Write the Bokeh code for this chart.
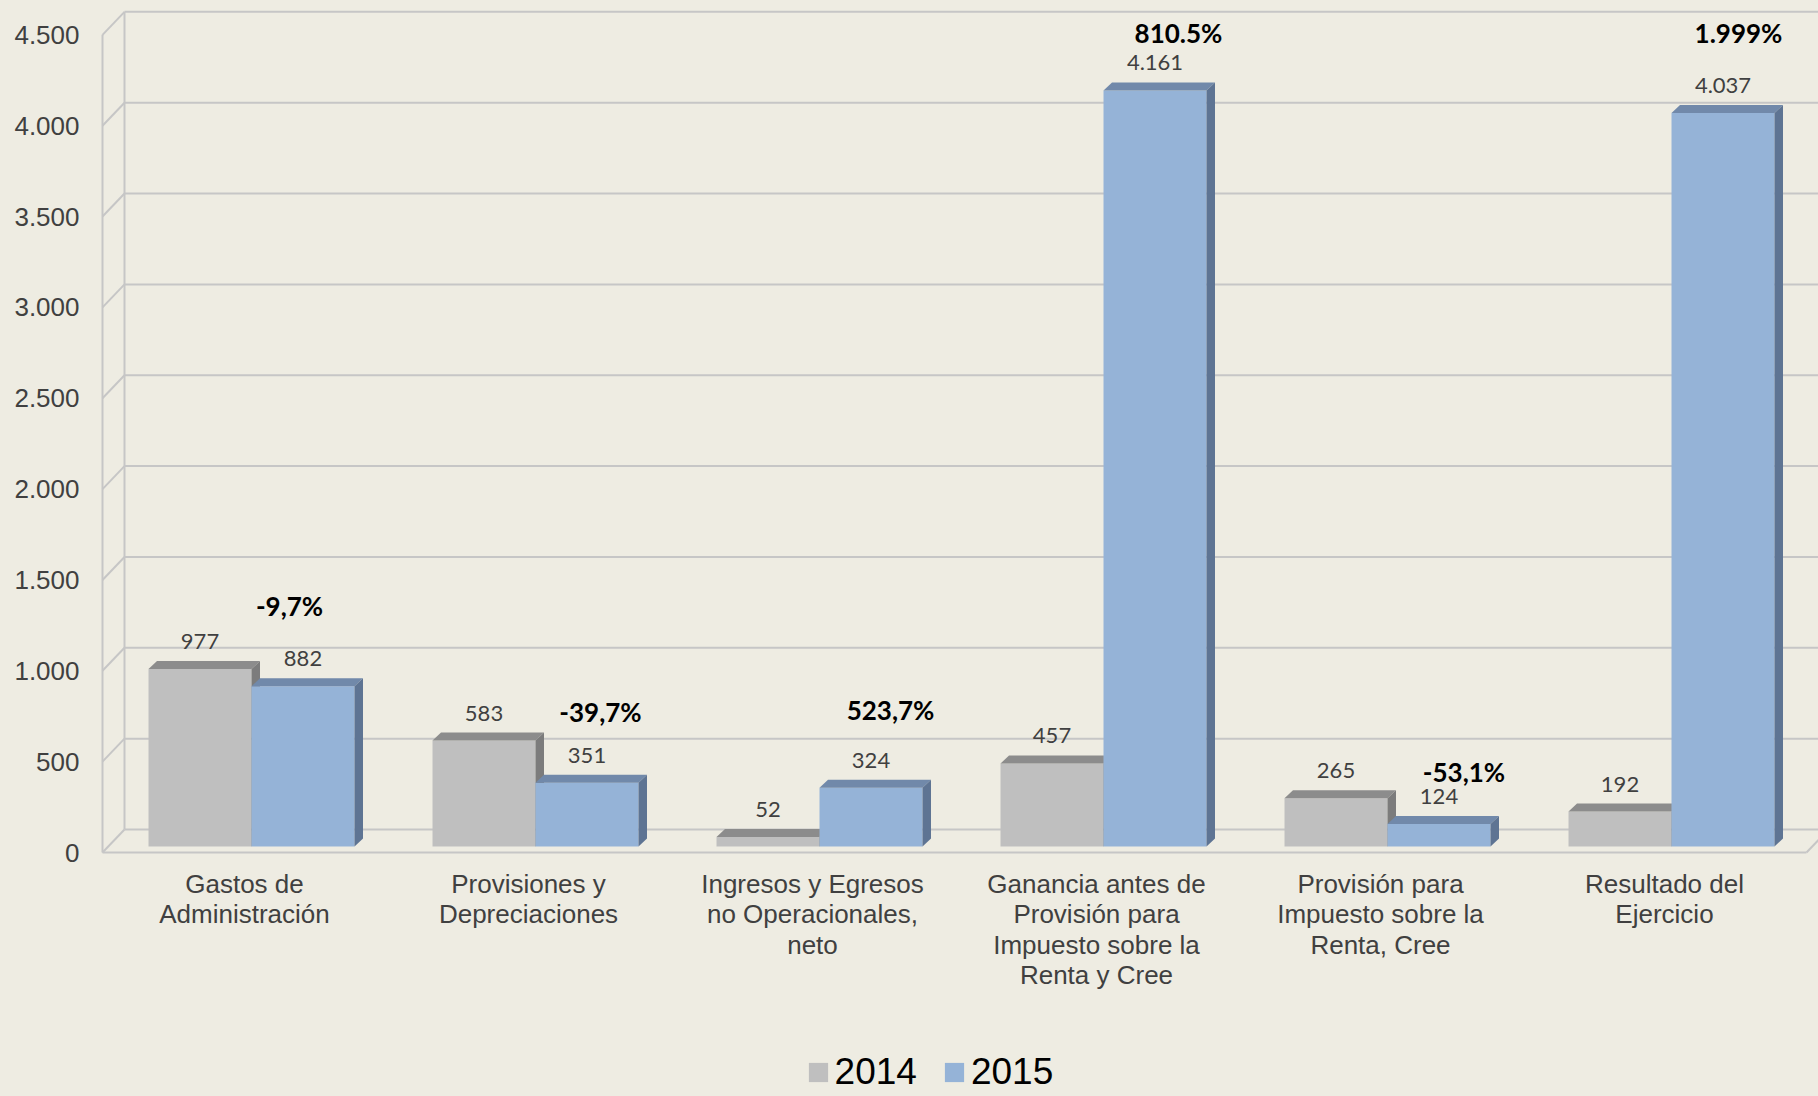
from bokeh.plotting import figure
from bokeh.models import Range1d, FixedTicker, Legend, LegendItem
from bokeh.core.properties import value
from bokeh.embed import file_html
from bokeh.resources import INLINE

# ---------------- data ----------------
categories = [
    "Gastos de\nAdministración",
    "Provisiones y\nDepreciaciones",
    "Ingresos y Egresos\nno Operacionales,\nneto",
    "Ganancia antes de\nProvisión para\nImpuesto sobre la\nRenta y Cree",
    "Provisión para\nImpuesto sobre la\nRenta, Cree",
    "Resultado del\nEjercicio",
]
series_names = ["2014", "2015"]
values_2014 = [977, 583, 52, 457, 265, 192]
values_2015 = [882, 351, 324, 4161, 124, 4037]
labels_2014 = ["977", "583", "52", "457", "265", "192"]
labels_2015 = ["882", "351", "324", "4.161", "124", "4.037"]
pct_change = ["-9,7%", "-39,7%", "523,7%", "810.5%", "-53,1%", "1.999%"]
y_ticks = [0, 500, 1000, 1500, 2000, 2500, 3000, 3500, 4000, 4500]
y_tick_labels = ["0", "500", "1.000", "1.500", "2.000", "2.500",
                 "3.000", "3.500", "4.000", "4.500"]

# ---------------- layout / style constants ----------------
W, H = 1818, 1096
FRAME_LEFT = 100       # canvas px of frame left
X0_PX = 102            # canvas px of x = 0 (front axis)
ZERO_PX = 852          # canvas px of front-plane zero
KX = 284.0             # px per category
KY = 0.1817            # px per value unit

BG = "#EEECE2"
GRID = "#C6C6C6"
GRAY_FRONT, GRAY_TOP, GRAY_SIDE = "#BFBFBF", "#8C8C8C", "#7C7C7C"
BLUE_FRONT, BLUE_TOP, BLUE_SIDE = "#95B3D7", "#7189AA", "#5E7493"

DXW, DYW = 22 / KX, 23 / KY        # depth of the wall (back offset)
OX, OY = 7 / KX, 6 / KY            # bar front plane offset
BDX, BDY = 8.5 / KX, 8 / KY        # bar depth
BW = 103 / KX                      # bar width
VAL_GAP = 27.5 / KY                # value label gap above bar
CAT_GAP = 16 / KY                  # category label gap below floor
# percentage text-box nudges (px) relative to 2015 bar front-top centre
pct_nudge_px = [(-13.5, 80), (13.5, 70.5), (19.5, 77.5), (23.5, 57), (25, 52), (15.5, 79.5)]

n = len(categories)
x_end = (W - X0_PX) / KX

p = figure(width=W, height=H,
           x_range=Range1d(-(X0_PX - FRAME_LEFT) / KX, x_end),
           y_range=Range1d(-(H - ZERO_PX) / KY, ZERO_PX / KY),
           output_backend="svg", toolbar_location=None,
           x_axis_location=None,
           min_border_left=FRAME_LEFT, min_border_right=0,
           min_border_top=0, min_border_bottom=0)
p.background_fill_color = BG
p.border_fill_color = BG
p.styles = {"background-color": BG}
p.outline_line_color = None
p.xgrid.visible = False
p.ygrid.visible = False

ax = p.yaxis[0]
ax.ticker = FixedTicker(ticks=y_ticks)
ax.major_label_overrides = {t: l for t, l in zip(y_ticks, y_tick_labels)}
ax.axis_line_color = None
ax.major_tick_line_color = None
ax.minor_tick_line_color = None
ax.major_label_standoff = 15
ax.major_label_text_font = "Liberation Sans"
ax.major_label_text_font_size = "26px"
ax.major_label_text_color = "#404040"

# ---------------- walls / grid ----------------
top = y_ticks[-1]
gx0, gy0, gx1, gy1 = [], [], [], []
for t in y_ticks:
    gx0.append(DXW); gy0.append(t + DYW); gx1.append(x_end + 1); gy1.append(t + DYW)
    gx0.append(0); gy0.append(t); gx1.append(DXW); gy1.append(t + DYW)
gx0 += [DXW, 0, 0, n]
gy0 += [DYW, 0, 0, 0]
gx1 += [DXW, 0, n, n + DXW]
gy1 += [top + DYW, top, 0, DYW]
p.segment(gx0, gy0, gx1, gy1, line_color=GRID, line_width=2)

# ---------------- 3D bars ----------------
def bar_faces(lefts, vals):
    rights = [l + BW for l in lefts]
    tops_x, tops_y, sides_x, sides_y = [], [], [], []
    for l, r, v in zip(lefts, rights, vals):
        b = OY
        tp = OY + v
        tops_x.append([l, r, r + BDX, l + BDX])
        tops_y.append([tp, tp, tp + BDY, tp + BDY])
        sides_x.append([r, r + BDX, r + BDX, r])
        sides_y.append([b, b + BDY, tp + BDY, tp])
    return rights, tops_x, tops_y, sides_x, sides_y

centers = [i + 0.5 + OX for i in range(n)]
left_14 = [c - BW for c in centers]
left_15 = list(centers)

renderers = []
for lefts, vals, cf, ct, cs in [(left_14, values_2014, GRAY_FRONT, GRAY_TOP, GRAY_SIDE),
                                 (left_15, values_2015, BLUE_FRONT, BLUE_TOP, BLUE_SIDE)]:
    rights, tx, ty, sx, sy = bar_faces(lefts, vals)
    r = p.quad(left=lefts, right=rights, bottom=[OY] * n, top=[OY + v for v in vals],
               fill_color=cf, line_color=None)
    p.patches(tx, ty, fill_color=ct, line_color=None)
    p.patches(sx, sy, fill_color=cs, line_color=None)
    renderers.append(r)

# ---------------- value labels ----------------
p.text(x=[l + BW / 2 for l in left_14], y=[OY + v + VAL_GAP for v in values_2014],
       text=labels_2014, text_align="center", text_baseline="middle",
       text_font=value("Lato"), text_font_size="22px", text_color="#404040")
p.text(x=[l + BW / 2 for l in left_15], y=[OY + v + VAL_GAP for v in values_2015],
       text=labels_2015, text_align="center", text_baseline="middle",
       text_font=value("Lato"), text_font_size="22px", text_color="#404040")

# ---------------- percentage labels ----------------
p.text(x=[l + BW / 2 + d[0] / KX for l, d in zip(left_15, pct_nudge_px)],
       y=[OY + v + d[1] / KY for v, d in zip(values_2015, pct_nudge_px)],
       text=pct_change, text_align="center", text_baseline="middle",
       text_font=value("Lato"), text_font_style="bold", text_font_size="26px",
       text_color="#000000")

# ---------------- category labels ----------------
p.text(x=[i + 0.5 for i in range(n)], y=[-CAT_GAP] * n, text=categories,
       text_align="center", text_baseline="top", text_line_height=1.02,
       text_font=value("Liberation Sans"), text_font_size="26px", text_color="#404040")

# ---------------- legend ----------------
legend = Legend(items=[LegendItem(label=series_names[0], renderers=[renderers[0]]),
                       LegendItem(label=series_names[1], renderers=[renderers[1]])],
                orientation="horizontal", location=(705.6, 3),
                glyph_width=24, glyph_height=24, label_standoff=5, spacing=25,
                padding=0, margin=0,
                label_text_font="Liberation Sans", label_text_font_size="37px",
                label_text_color="#000000",
                background_fill_alpha=0, border_line_alpha=0)
p.add_layout(legend)

open("out.html", "w").write(file_html(p, INLINE))
